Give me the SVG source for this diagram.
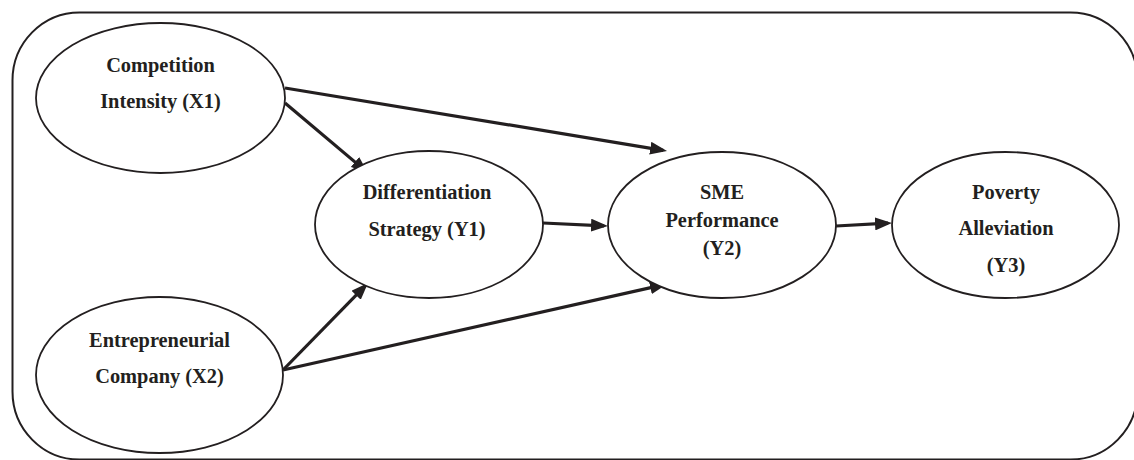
<svg xmlns="http://www.w3.org/2000/svg" width="1134" height="460" viewBox="0 0 1134 460">
<style>
.frame{fill:none;stroke:#231f20;stroke-width:2}
.node ellipse{fill:#fff;stroke:#231f20;stroke-width:1.8}
.node text{font-family:"Liberation Serif","Times New Roman",serif;font-weight:bold;font-size:20.4px;fill:#231f20;text-anchor:middle}
.edge{stroke:#231f20;stroke-width:3.2;fill:none;marker-end:url(#arrow)}
</style>
<defs>
<marker id="arrow" markerUnits="userSpaceOnUse" viewBox="0 0 17 13" markerWidth="17" markerHeight="13" refX="13" refY="6.5" orient="auto">
<path d="M0,0 L17,6.5 L0,13 z" fill="#231f20"/>
</marker>
</defs>
<rect class="frame" x="12.5" y="12.5" width="1125" height="447" rx="67" ry="68"/>
<g id="connectors">
<line class="edge" x1="285" y1="103" x2="364.9" y2="170.4"/>
<line class="edge" x1="285" y1="88" x2="663.1" y2="150.3"/>
<line class="edge" x1="543" y1="223" x2="604" y2="225.8"/>
<line class="edge" x1="283" y1="370" x2="365.2" y2="285.9"/>
<line class="edge" x1="283" y1="370" x2="663.1" y2="284.9"/>
<line class="edge" x1="836" y1="226" x2="888" y2="223.2"/>
</g>
<g id="node-x1" class="node">
<ellipse cx="160.5" cy="98" rx="124.5" ry="75"/>
<text x="160.5" y="72">Competition</text>
<text x="160.5" y="108">Intensity (X1)</text>
</g>
<g id="node-x2" class="node">
<ellipse cx="159.5" cy="375" rx="123.5" ry="78"/>
<text x="159.5" y="347">Entrepreneurial</text>
<text x="159.5" y="383">Company (X2)</text>
</g>
<g id="node-y1" class="node">
<ellipse cx="429" cy="224.5" rx="114" ry="73.5"/>
<text x="427" y="199">Differentiation</text>
<text x="427" y="236">Strategy (Y1)</text>
</g>
<g id="node-y2" class="node">
<ellipse cx="722" cy="225" rx="114" ry="73"/>
<text x="722" y="199">SME</text>
<text x="722" y="227">Performance</text>
<text x="722" y="255">(Y2)</text>
</g>
<g id="node-y3" class="node">
<ellipse cx="1005.5" cy="225" rx="113.5" ry="73"/>
<text x="1006" y="199">Poverty</text>
<text x="1006" y="235">Alleviation</text>
<text x="1006" y="272">(Y3)</text>
</g>
</svg>
